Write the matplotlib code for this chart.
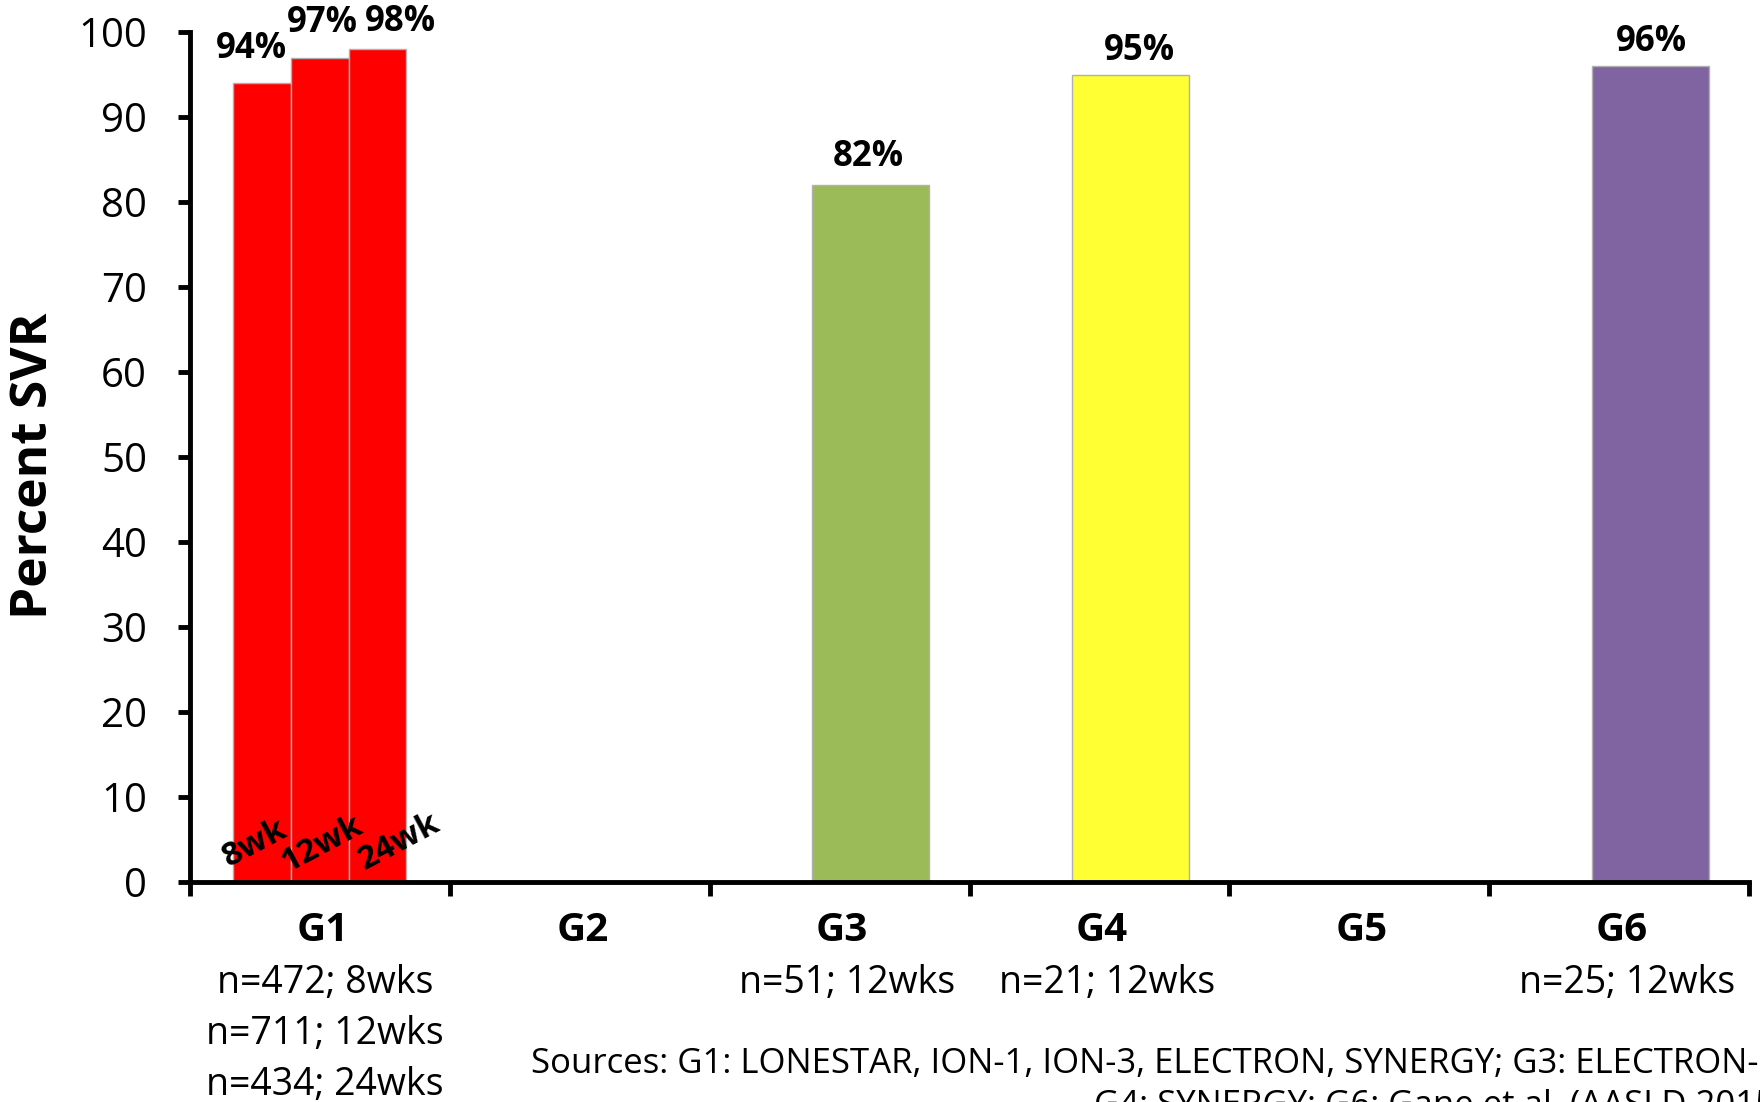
import matplotlib
matplotlib.use("Agg")
import matplotlib.pyplot as plt

plt.rcParams['font.family'] = ['Open Sans', 'DejaVu Sans']

# Data
genotypes = ["G1", "G2", "G3", "G4", "G5", "G6"]
g1_durations = ["8wk", "12wk", "24wk"]
g1_svr = [94, 97, 98]
other_genotypes = ["G3", "G4", "G6"]
other_svr = [82, 95, 96]
other_colors = ["#9BBB59", "#FFFF33", "#8064A2"]
g1_color = "#FF0000"
sample_notes = {
    "G1": ["n=472; 8wks", "n=711; 12wks", "n=434; 24wks"],
    "G3": ["n=51; 12wks"],
    "G4": ["n=21; 12wks"],
    "G6": ["n=25; 12wks"],
}
yticks = [0, 10, 20, 30, 40, 50, 60, 70, 80, 90, 100]
source_lines = [
    "Sources: G1: LONESTAR, ION-1, ION-3, ELECTRON, SYNERGY; G3: ELECTRON-2;",
    "G4: SYNERGY; G6: Gane et al. (AASLD 2015)",
]

W, H = 1760, 1102
fig = plt.figure(figsize=(W / 100, H / 100), dpi=100)
ax = fig.add_axes([190 / W, 1 - 882 / H, (1749 - 190) / W, (882 - 32) / H])

edge = "#B0B0B0"

# Genotype 1: three treatment durations side by side
g1_width = 0.222
g1_offsets = [-0.222, 0.0, 0.222]
g1_x = [0.5 + o for o in g1_offsets]
ax.bar(g1_x, g1_svr, width=g1_width, color=g1_color,
       edgecolor=edge, linewidth=1.0, zorder=2)

# Other genotypes: one bar each
single_width = 0.45
single_shift = 0.12
other_x = [genotypes.index(g) + 0.5 + single_shift for g in other_genotypes]
ax.bar(other_x, other_svr, width=single_width, color=other_colors,
       edgecolor=edge, linewidth=1.0, zorder=2)

# Percentage labels above bars (pixel nudges keep the G1 labels apart)
g1_label_shift = [(-11, 34), (2, 35), (23, 27)]
for x, v, (dx, dy) in zip(g1_x, g1_svr, g1_label_shift):
    ax.annotate(f"{v}%", xy=(x, v), xytext=(dx, dy), textcoords="offset pixels",
                ha="center", va="center", fontsize=25, fontweight="bold",
                annotation_clip=False)
other_label_shift = [(-2, 28), (9, 23), (1, 24)]
for x, v, (dx, dy) in zip(other_x, other_svr, other_label_shift):
    ax.annotate(f"{v}%", xy=(x, v), xytext=(dx, dy), textcoords="offset pixels",
                ha="center", va="center", fontsize=25, fontweight="bold",
                annotation_clip=False)

# Duration labels at the foot of the G1 bars
dur_shift = [(-7, 0), (3, 0), (22, 2)]
for x, lab, (dx, dy) in zip(g1_x, g1_durations, dur_shift):
    ax.annotate(lab, xy=(x, 4.5), xytext=(dx, dy), textcoords="offset pixels",
                ha="center", va="center", rotation=28, fontsize=24,
                fontweight="bold", annotation_clip=False)

# Axes styling
ax.set_xlim(0, 6)
ax.set_ylim(0, 100)
ax.set_yticks(yticks)
ax.set_xticks(range(7))
ax.set_xticklabels([])
for s in ["top", "right"]:
    ax.spines[s].set_visible(False)
for s in ["left", "bottom"]:
    ax.spines[s].set_linewidth(3.5)
ax.tick_params(axis="y", direction="out", length=9, width=3.5, pad=22, labelsize=29)
ax.tick_params(axis="x", direction="out", length=10, width=3.5)

fig.text(34 / W, 1 - 466 / H, "Percent SVR", rotation=90, ha="center", va="center",
         fontsize=37, fontweight="bold")

# Category and sample-size labels under the axis
tr = ax.get_xaxis_transform()
for i, g in enumerate(genotypes):
    ax.text(i + 0.51, -0.0575, g, transform=tr, ha="center", va="center",
            fontsize=29, fontweight="bold")
    for j, note in enumerate(sample_notes.get(g, [])):
        ax.text(i + 0.52 + (0.01 if g != "G1" else 0.0), -0.119 - 0.06 * j, note,
                transform=tr, ha="center", va="center", fontsize=27)

# Source note (runs past the canvas edge)
fig.text(531 / W, 1 - 1064 / H, source_lines[0], ha="left", va="center", fontsize=25)
fig.text(1094 / W, 1 - 1105 / H, source_lines[1], ha="left", va="center", fontsize=25)

fig.savefig("out.png", dpi=100)
